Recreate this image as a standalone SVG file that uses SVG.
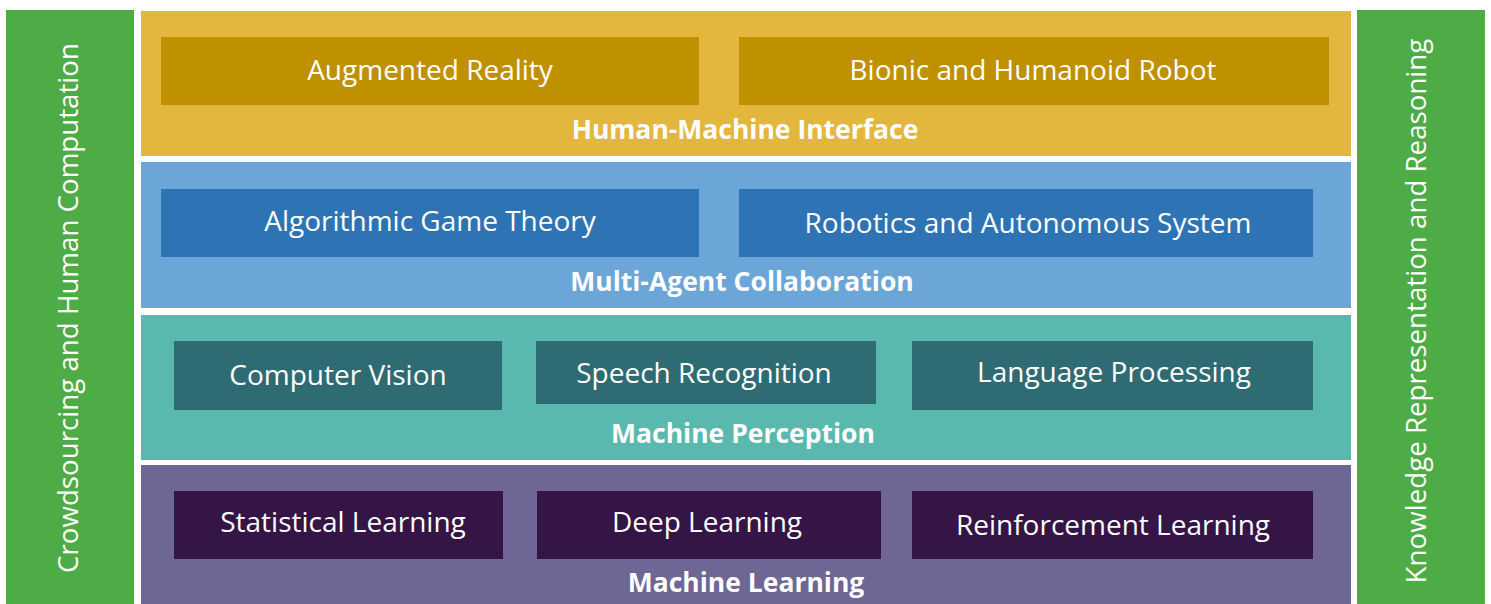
<svg xmlns="http://www.w3.org/2000/svg" width="1491" height="604" viewBox="0 0 1491 604">
<style>
.t{font-family:"Open Sans","Liberation Sans",sans-serif;fill:#ffffff;text-anchor:middle;font-size:28px}
.b{font-family:"Open Sans","Liberation Sans",sans-serif;fill:#ffffff;text-anchor:middle;font-size:26.5px;font-weight:bold}
.v{font-family:"Open Sans","Liberation Sans",sans-serif;fill:#ffffff;text-anchor:middle;font-size:27.7px}
.side{fill:#4EAC47}
</style>
<rect width="1491" height="604" fill="#ffffff"/>
<g id="side-left">
<rect class="side" x="6" y="10" width="128" height="594"/>
<text class="v" transform="translate(78,308) rotate(-90)">Crowdsourcing and Human Computation</text>
</g>
<g id="side-right">
<rect class="side" x="1357" y="10" width="128" height="594"/>
<text class="v" transform="translate(1426,311) rotate(-90)">Knowledge Representation and Reasoning</text>
</g>
<g id="layer-hmi">
<rect x="141" y="11" width="1210" height="145" fill="#E3B63D"/>
<text class="b" x="745" y="139">Human-Machine Interface</text>
</g>
<g id="node-ar"><rect x="161" y="37" width="538" height="68" fill="#BF9000"/><text class="t" x="430" y="80">Augmented Reality</text></g>
<g id="node-robot"><rect x="739" y="37" width="590" height="68" fill="#BF9000"/><text class="t" x="1033" y="80">Bionic and Humanoid Robot</text></g>
<g id="layer-mac">
<rect x="141" y="162" width="1210" height="146" fill="#6CA6D9"/>
<text class="b" x="742" y="291">Multi-Agent Collaboration</text>
</g>
<g id="node-agt"><rect x="161" y="189" width="538" height="68" fill="#2E74B5"/><text class="t" x="430" y="231">Algorithmic Game Theory</text></g>
<g id="node-ras"><rect x="739" y="189" width="574" height="68" fill="#2E74B5"/><text class="t" x="1028" y="233">Robotics and Autonomous System</text></g>
<g id="layer-mp">
<rect x="141" y="315" width="1210" height="145" fill="#5AB9AE"/>
<text class="b" x="743" y="443">Machine Perception</text>
</g>
<g id="node-cv"><rect x="174" y="341" width="328" height="69" fill="#2F6B72"/><text class="t" x="338" y="385">Computer Vision</text></g>
<g id="node-sr"><rect x="536" y="341" width="340" height="63" fill="#2F6B72"/><text class="t" x="704" y="383">Speech Recognition</text></g>
<g id="node-lp"><rect x="912" y="341" width="401" height="69" fill="#2F6B72"/><text class="t" x="1114" y="382">Language Processing</text></g>
<g id="layer-ml">
<rect x="141" y="465" width="1210" height="139" fill="#6E6695"/>
<text class="b" x="746" y="592">Machine Learning</text>
</g>
<g id="node-sl"><rect x="174" y="491" width="329" height="68" fill="#351546"/><text class="t" x="343" y="532">Statistical Learning</text></g>
<g id="node-dl"><rect x="537" y="491" width="344" height="68" fill="#351546"/><text class="t" x="707" y="532">Deep Learning</text></g>
<g id="node-rl"><rect x="912" y="491" width="401" height="68" fill="#351546"/><text class="t" x="1113" y="535">Reinforcement Learning</text></g>
<g id="connectors"></g>
</svg>
